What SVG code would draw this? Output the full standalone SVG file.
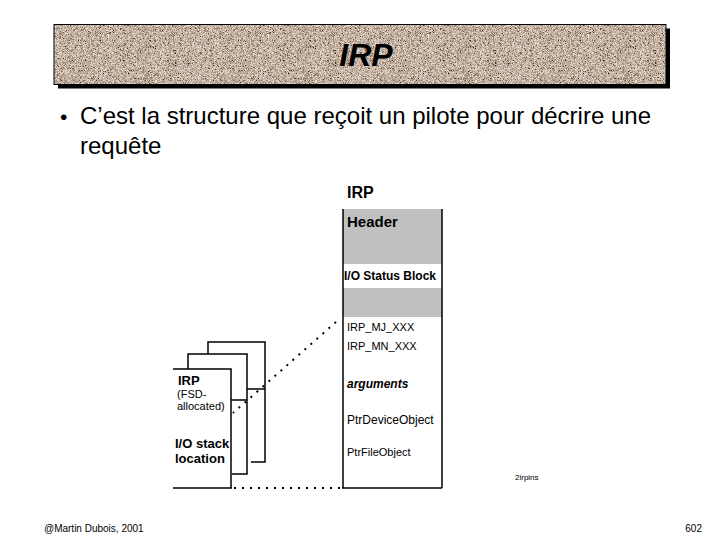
<svg xmlns="http://www.w3.org/2000/svg" width="720" height="540" viewBox="0 0 720 540">
<style>
text{font-family:"Liberation Sans",Arial,sans-serif;fill:#000}
.ln{stroke:#000;stroke-width:1.5;fill:none}
.dot{stroke:#000;stroke-width:2;fill:none;stroke-dasharray:2 6}
.f{font-size:11px}
.b{font-weight:bold}
</style>
<defs>
<filter id="granite" x="0" y="0" width="100%" height="100%">
<feTurbulence type="fractalNoise" baseFrequency="1.6" numOctaves="1" seed="5" result="n"/>
<feColorMatrix in="n" type="matrix" values="2.2 0 0 0 -0.5  2.1 0 0 0 -0.55  2.0 0 0 0 -0.58  0 0 0 0 1" result="c"/>
<feComposite in="c" in2="SourceGraphic" operator="in"/>
</filter>
</defs>
<rect width="720" height="540" fill="#fff"/>
<g id="title">
<rect x="58" y="28.5" width="612" height="60" fill="#000"/>
<rect x="54" y="24.5" width="612" height="60" fill="#a6988a"/>
<rect x="54" y="24.5" width="612" height="60" fill="#a6988a" filter="url(#granite)" opacity="0.75"/>
<rect x="54" y="24.5" width="612" height="60" fill="none" stroke="#000" stroke-width="1"/>
<text x="366" y="66" font-size="32" font-weight="bold" font-style="italic" text-anchor="middle">IRP</text>
</g>
<g id="bullet">
<text x="60" y="124" font-size="21">•</text>
<text x="80" y="124" font-size="24">C’est la structure que reçoit un pilote pour décrire une</text>
<text x="80" y="154" font-size="24">requête</text>
</g>
<g id="connectors">
<line class="dot" x1="336" y1="322" x2="233" y2="413"/>
<line class="dot" x1="234" y1="488" x2="342" y2="488"/>
<line class="ln" x1="173" y1="488" x2="232" y2="488"/>
</g>
<g id="irp-main">
<text x="347" y="198" font-size="16" class="b">IRP</text>
<rect x="343" y="209" width="99" height="55" fill="#c0c0c0"/>
<rect x="343" y="288" width="99" height="29" fill="#c0c0c0"/>
<line class="ln" x1="343" y1="209" x2="343" y2="488"/>
<line class="ln" x1="442" y1="209" x2="442" y2="488"/>
<line class="ln" x1="342" y1="488" x2="442" y2="488"/>
<text x="347" y="227" font-size="15" class="b">Header</text>
<text x="344" y="280" font-size="12" style="font-weight:600">I/O Status Block</text>
<text x="347" y="331" class="f">IRP_MJ_XXX</text>
<text x="347" y="350" class="f">IRP_MN_XXX</text>
<text x="347" y="388" font-size="12" font-weight="bold" font-style="italic">arguments</text>
<text x="347" y="424" font-size="12">PtrDeviceObject</text>
<text x="347" y="456" class="f">PtrFileObject</text>
<text x="515" y="480" font-size="8" fill="#444">2irpins</text>
</g>
<g id="stack3">
<polyline class="ln" points="208,354 208,342 265,342 265,462 251,462"/>
<line class="ln" x1="247" y1="389" x2="265" y2="389"/>
</g>
<g id="stack2">
<polyline class="ln" points="188,369 188,354 247,354 247,474 232,474"/>
<line class="ln" x1="231" y1="400" x2="247" y2="400"/>
</g>
<g id="irp-fsd">
<polyline class="ln" points="173,369 231,369 231,488"/>
<text x="178" y="385" font-size="13" class="b">IRP</text>
<text x="177" y="398" class="f">(FSD-</text>
<text x="177" y="410" class="f">allocated)</text>
<text x="175" y="448" font-size="13" class="b">I/O stack</text>
<text x="175" y="463" font-size="13" class="b">location</text>
</g>
<g id="footer">
<text x="44" y="532" font-size="10">@Martin Dubois, 2001</text>
<text x="702" y="532" font-size="10" text-anchor="end">602</text>
</g>
</svg>
